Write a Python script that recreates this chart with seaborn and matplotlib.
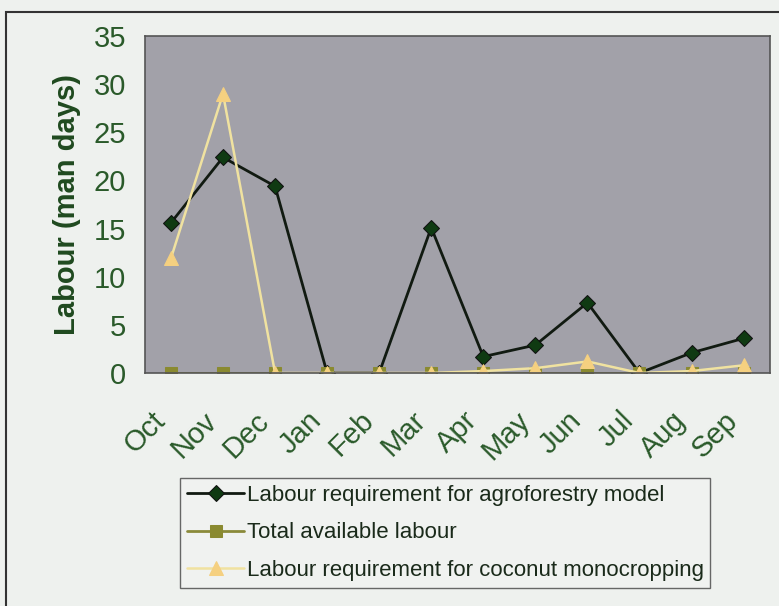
import matplotlib
matplotlib.use("Agg")
import matplotlib.pyplot as plt
import matplotlib.transforms as mtrans
import seaborn as sns
import pandas as pd
from matplotlib.patches import Rectangle

months = ["Oct", "Nov", "Dec", "Jan", "Feb", "Mar", "Apr", "May", "Jun", "Jul", "Aug", "Sep"]
agroforestry = [15.6, 22.4, 19.4, 0, 0, 15.1, 1.7, 2.9, 7.3, 0, 2.1, 3.6]
available = [0, 0, 0, 0, 0, 0, 0, 0, 0, 0, 0, 0]
coconut = [11.9, 29.0, 0, 0, 0, 0, 0.2, 0.5, 1.2, 0, 0.2, 0.8]

labels = ["Labour requirement for agroforestry model",
          "Total available labour",
          "Labour requirement for coconut monocropping"]

sns.set_theme(style="white")
plt.rcParams['font.family'] = ['Liberation Sans', 'DejaVu Sans']

text_col = "#2a5a2a"
fig = plt.figure(figsize=(7.79, 6.06), dpi=100)
fig.patch.set_facecolor("#eef1ee")
ax = fig.add_axes([0.186, 0.3845, 0.802, 0.556])
ax.set_facecolor("#a2a1a9")

x = list(range(len(months)))
sns.lineplot(x=x, y=agroforestry, ax=ax, color="#111a11", marker="D", markersize=8,
             markerfacecolor="#0f3a12", markeredgecolor="#111111", linewidth=2, label=labels[0])
sns.lineplot(x=x, y=available, ax=ax, color="#8a8a3a", marker="s", markersize=8,
             markerfacecolor="#8a8a30", markeredgecolor="#8a8a30", linewidth=2, label=labels[1])
sns.lineplot(x=x, y=coconut, ax=ax, color="#f0e2a0", marker="^", markersize=10,
             markerfacecolor="#f5d080", markeredgecolor="#f5d080", linewidth=1.8, label=labels[2])

ax.set_xlim(-0.5, 11.5)
ax.set_ylim(0, 35)
ax.set_yticks(range(0, 36, 5))
ax.set_xticks(x)
ax.set_xticklabels(months, rotation=45, ha="right", rotation_mode="anchor")
ax.tick_params(axis="both", labelsize=21, colors=text_col, length=3, width=0.8)
ax.tick_params(axis="both", color="#666666")
ax.tick_params(axis="y", pad=10.5)
ax.tick_params(axis="x", pad=3)
offset = mtrans.ScaledTranslation(-20/100, -25/100, fig.dpi_scale_trans)
for lab in ax.get_xticklabels():
    lab.set_transform(lab.get_transform() + offset)
ax.set_ylabel("Labour (man days)", fontsize=21, fontweight="bold", color="#1f4a1f", labelpad=9)
for s in ax.spines.values():
    s.set_color("#555555")
    s.set_linewidth(1.2)

leg = ax.legend(loc="upper left", bbox_to_anchor=(180/779, 1 - 478/606),
                bbox_transform=fig.transFigure, fontsize=16, frameon=True,
                fancybox=False, handlelength=2.6, handletextpad=0.1,
                borderpad=0.3, labelspacing=0.75, borderaxespad=0)
leg.get_frame().set_edgecolor("#444444")
leg.get_frame().set_facecolor("#f1f3f1")
leg.get_frame().set_linewidth(1.0)
for t in leg.get_texts():
    t.set_color("#1a2a1a")

fig.patches.append(Rectangle((6/779, -0.1), 1.2, 1.1 - 12/606, transform=fig.transFigure,
                             fill=False, edgecolor="#333333", linewidth=1.5))

fig.savefig("out.png", dpi=100, facecolor=fig.get_facecolor())
